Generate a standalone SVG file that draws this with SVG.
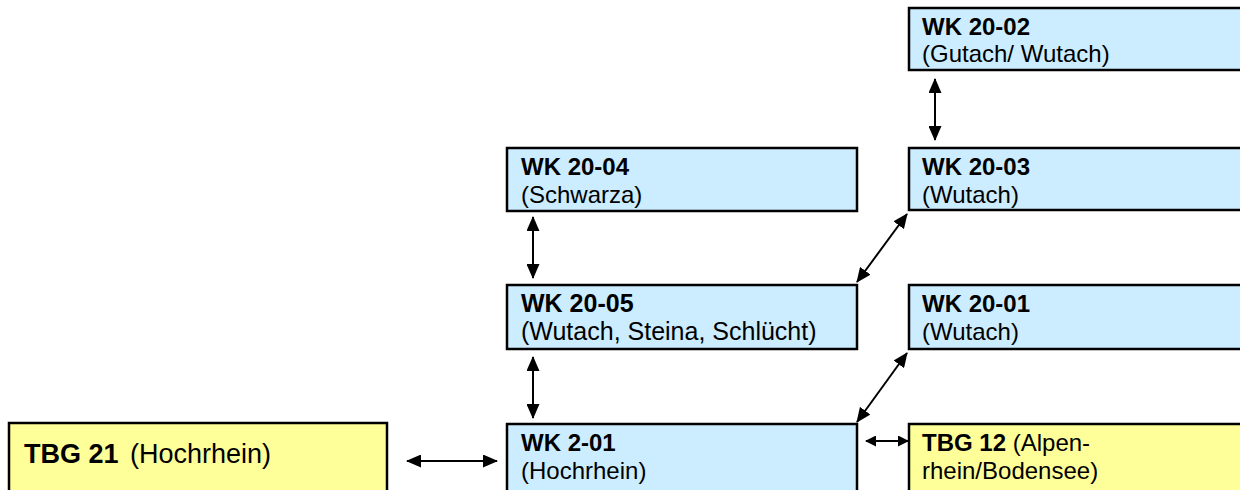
<svg xmlns="http://www.w3.org/2000/svg" width="1240" height="490" viewBox="0 0 1240 490">
<defs>
<style>
.wk{fill:#CCECFF;stroke:#000;stroke-width:2.5}
.tbg{fill:#FFFF99;stroke:#000;stroke-width:2.5}
text{font-family:"Liberation Sans",Arial,sans-serif;font-size:24px;fill:#000}
.b{font-weight:bold}
.l{font-size:27px}
.m{font-size:25px}
.c{stroke:#000;stroke-width:2;fill:none;marker-start:url(#ah);marker-end:url(#ah)}
.s{stroke:#000;stroke-width:2;fill:none;marker-start:url(#as);marker-end:url(#as)}
</style>
<marker id="ah" viewBox="0 0 15 13" refX="14" refY="6.5" markerWidth="15" markerHeight="13" markerUnits="userSpaceOnUse" orient="auto-start-reverse">
<path d="M0,0 L15,6.5 L0,13 Z" fill="#000"/>
</marker>
<marker id="as" viewBox="0 0 11 11" refX="10" refY="5.5" markerWidth="11" markerHeight="11" markerUnits="userSpaceOnUse" orient="auto-start-reverse">
<path d="M0,0 L11,5.5 L0,11 Z" fill="#000"/>
</marker>
</defs>
<g id="wk2002"><rect class="wk" x="909" y="8" width="345" height="62"/><text x="922" y="35" class="b">WK 20-02</text><text x="922" y="62">(Gutach/ Wutach)</text></g>
<g id="wk2004"><rect class="wk" x="507" y="148" width="350" height="63"/><text x="521" y="175" class="b">WK 20-04</text><text x="521" y="203">(Schwarza)</text></g>
<g id="wk2003"><rect class="wk" x="909" y="148" width="345" height="62"/><text x="922" y="175" class="b">WK 20-03</text><text x="922" y="203">(Wutach)</text></g>
<g id="wk2005"><rect class="wk" x="507" y="285" width="350" height="64"/><text x="521" y="312" class="b m">WK 20-05</text><text x="521" y="340" class="m">(Wutach, Steina, Schlücht)</text></g>
<g id="wk2001"><rect class="wk" x="909" y="285" width="345" height="64"/><text x="922" y="312" class="b">WK 20-01</text><text x="922" y="340">(Wutach)</text></g>
<g id="wk201"><rect class="wk" x="507" y="424" width="350" height="80"/><text x="521" y="451" class="b">WK 2-01</text><text x="521" y="479">(Hochrhein)</text></g>
<g id="tbg21"><rect class="tbg" x="9" y="423" width="378" height="80"/><text x="24" y="463" class="l"><tspan class="b">TBG 21</tspan> <tspan dx="4">(Hochrhein)</tspan></text></g>
<g id="tbg12"><rect class="tbg" x="909" y="424" width="345" height="80"/><text x="922" y="451"><tspan class="b">TBG 12</tspan> (Alpen-</text><text x="922" y="479">rhein/Bodensee)</text></g>
<g id="connectors">
<line class="c" x1="935" y1="79" x2="935" y2="140"/>
<line class="c" x1="533" y1="217" x2="533" y2="278"/>
<line class="c" x1="533" y1="357" x2="533" y2="418"/>
<line class="c" x1="857" y1="282" x2="907" y2="214"/>
<line class="c" x1="857" y1="422" x2="907" y2="353"/>
<line class="c" x1="407" y1="461" x2="497" y2="461"/>
<line class="s" x1="866" y1="441" x2="908" y2="441"/>
</g>
</svg>
